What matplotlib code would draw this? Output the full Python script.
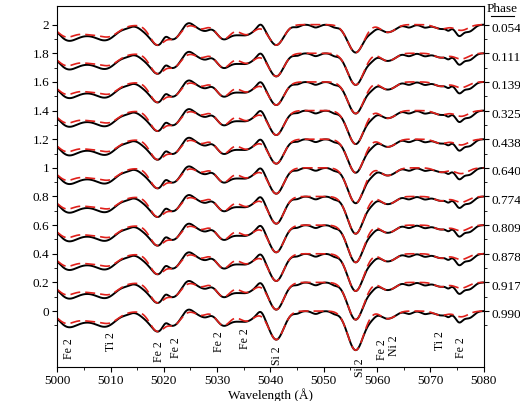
import numpy as np
import matplotlib.pyplot as plt

plt.rcParams['font.family'] = ['Liberation Serif', 'DejaVu Serif']

phases = ['0.054', '0.111', '0.139', '0.325', '0.438', '0.640',
          '0.774', '0.809', '0.878', '0.917', '0.990']
offsets = [2.0, 1.8, 1.6, 1.4, 1.2, 1.0, 0.8, 0.6, 0.4, 0.2, 0.0]
si_scale = [0.75, 0.85, 0.85, 0.9, 0.9, 0.95, 1.0, 1.0, 1.0, 1.0, 1.05]

# model line list: centre (A), depth, sigma (A)
model_center = [5001.5, 5006.5, 5010.0, 5018.8, 5022.0, 5027.0, 5031.2, 5035.5,
                5041.1, 5056.0, 5061.5, 5063.0, 5072.0, 5075.8]
model_depth = [0.06, 0.07, 0.04, 0.14, 0.09, 0.03, 0.10, 0.07,
               0.19, 0.26, 0.04, 0.03, 0.03, 0.04]
model_sigma = [1.5, 3.5, 1.5, 1.4, 1.2, 1.0, 1.3, 1.5,
               1.4, 1.5, 1.0, 1.0, 1.2, 1.3]

# extra structure seen in the observed spectra
obs_center = [5003.0, 5008.5, 5013.0, 5016.2, 5020.3, 5024.5, 5028.0, 5033.5,
              5038.2, 5045.0, 5048.5, 5052.0, 5059.0, 5066.0, 5069.0, 5073.4, 5075.4, 5077.5]
obs_depth = [0.03, 0.025, 0.01, 0.025, -0.025, -0.02, 0.02, 0.025,
             -0.03, 0.015, 0.02, 0.015, 0.03, 0.02, 0.02, 0.02, 0.04, 0.03]
obs_sigma = [1.6, 1.4, 0.8, 1.0, 0.5, 0.8, 0.7, 1.0,
             0.6, 0.6, 0.7, 0.6, 0.8, 0.7, 0.7, 0.4, 0.6, 0.8]

labels = ['Fe 2', 'Ti 2', 'Fe 2', 'Fe 2', 'Fe 2', 'Fe 2', 'Si 2', 'Si 2',
          'Fe 2', 'Ni 2', 'Ti 2', 'Fe 2']
label_x = [5002.3, 5010.1, 5019.1, 5022.3, 5030.3, 5035.3, 5041.3, 5056.8,
           5061.0, 5063.1, 5071.8, 5075.7]
label_y = [-0.19, -0.15, -0.21, -0.18, -0.14, -0.12, -0.25, -0.33,
           -0.2, -0.17, -0.14, -0.18]

wave = np.linspace(5000, 5080, 1600)


def profile(centers, depths, sigmas, si=1.0):
    flux = np.zeros_like(wave)
    for c, d, s in zip(centers, depths, sigmas):
        if c in (5041.1, 5056.0):
            d = d * si
        flux -= d * np.exp(-0.5 * ((wave - c) / s) ** 2)
    return flux


fig, ax = plt.subplots(figsize=(5.2, 4.01), dpi=100)
fig.subplots_adjust(left=0.11, right=0.93, bottom=0.085, top=0.985)

for ph, off, si in zip(phases, offsets, si_scale):
    model = profile(model_center, model_depth, model_sigma, si)
    obs = model + profile(obs_center, obs_depth, obs_sigma)
    ax.plot(wave, obs + off, color='black', lw=1.4)
    ax.plot(wave, model + off, color='#e0201b', lw=1.2, dashes=(6, 3))
    ax.text(5081.5, off - 0.03, ph, va='center', ha='left', fontsize=9.5)

for lab, x, y in zip(labels, label_x, label_y):
    ax.text(x, y, lab, rotation=90, ha='center', va='top', fontsize=8.5)

ax.text(5083.5, 2.065, 'Phase', ha='center', va='bottom', fontsize=9.5)
ax.plot([5081.3, 5085.7], [2.06, 2.06], color='black', lw=0.8, clip_on=False)

ax.set_xlim(5000, 5080)
ax.set_ylim(-0.39, 2.13)
ax.set_xticks(np.arange(5000, 5081, 10))
ax.set_xticks(np.arange(5000, 5081, 5), minor=True)
ax.set_yticks(np.arange(0, 2.01, 0.2))
ax.set_yticklabels(['%g' % v for v in np.round(np.arange(0, 2.01, 0.2), 1)])
ax.set_yticks(np.arange(-0.1, 2.05, 0.2), minor=True)
ax.tick_params(labelsize=9.5, direction='out', pad=2)
ax.tick_params(axis='y', right=True, which='both')
ax.set_xlabel('Wavelength (\u00c5)', fontsize=9.5, labelpad=1)

fig.savefig('out.png', dpi=100)
